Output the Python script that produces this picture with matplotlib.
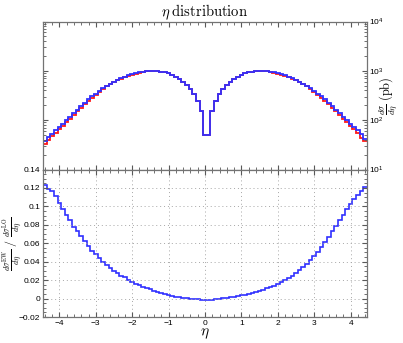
import numpy as np
import matplotlib
matplotlib.use('Agg')
import matplotlib.pyplot as plt
from matplotlib.ticker import MultipleLocator, LogLocator, FuncFormatter, NullFormatter

plt.rcParams['mathtext.fontset'] = 'cm'
plt.rcParams['font.family'] = ['Liberation Sans', 'DejaVu Sans']

# eta bins (width 0.1), centres -4.4 ... 4.4
eta_lo = -4.45
eta_hi = 4.45
n_bins = 89

# LO + EW (blue), pb
sigma_ew = [38, 45, 52, 62, 72, 85, 100, 117, 138, 162,
            191, 224, 263, 302, 347, 398, 447, 501, 550, 603,
            661, 708, 759, 813, 851, 891, 933, 966, 989, 1000,
            1000, 989, 966, 933, 891, 832, 759, 692, 603, 513,
            427, 339, 240, 151, 49,
            49, 151, 240, 339, 427, 513, 603, 692, 759, 832,
            891, 933, 966, 989, 1000, 1000, 989, 966, 933, 891,
            851, 813, 759, 708, 661, 603, 550, 501, 447, 398,
            347, 302, 263, 224, 191, 162, 138, 117, 100, 85,
            72, 62, 52, 42]

# LO (red), pb
sigma_lo = [33, 40, 47, 56, 65, 77, 92, 108, 128, 151,
            179, 211, 249, 287, 331, 381, 430, 484, 532, 585,
            643, 691, 742, 797, 836, 877, 920, 954, 978, 990,
            992, 982, 960, 928, 887, 830, 757, 691, 603, 513,
            427, 339, 240, 151, 49,
            49, 151, 240, 339, 427, 513, 602, 691, 757, 829,
            887, 928, 960, 982, 991, 990, 978, 954, 920, 877,
            836, 797, 742, 691, 643, 585, 532, 483, 429, 380,
            330, 286, 248, 210, 178, 151, 127, 108, 91, 77,
            65, 55, 44, 37]

# ratio EW / LO
ratio = [0.123, 0.119, 0.117, 0.111, 0.104, 0.097, 0.091, 0.085, 0.078, 0.073,
         0.068, 0.062, 0.057, 0.052, 0.048, 0.044, 0.040, 0.036, 0.033, 0.030,
         0.028, 0.025, 0.023, 0.020, 0.018, 0.016, 0.0145, 0.013, 0.0115, 0.010,
         0.0085, 0.007, 0.006, 0.005, 0.004, 0.003, 0.0022, 0.0015, 0.0008, 0.0002,
         -0.0003, -0.0007, -0.001, -0.0012, -0.0013,
         -0.0013, -0.0011, -0.0008, -0.0004, 0.0001, 0.0007, 0.0013, 0.002, 0.0027, 0.0035,
         0.0044, 0.0053, 0.0063, 0.0074, 0.0086, 0.0098, 0.011, 0.0125, 0.014, 0.0158,
         0.0178, 0.020, 0.0225, 0.025, 0.0278, 0.031, 0.0345, 0.038, 0.042, 0.046,
         0.051, 0.056, 0.061, 0.067, 0.073, 0.079, 0.085, 0.091, 0.097, 0.103,
         0.108, 0.112, 0.117, 0.121]

edges = np.linspace(eta_lo, eta_hi, n_bins + 1)

fig = plt.figure(figsize=(4.03, 3.43), dpi=100)
ax1 = fig.add_axes([0.1067, 0.5058, 0.804, 0.4315])
ax2 = fig.add_axes([0.1067, 0.0758, 0.804, 0.4300])

tickfs = 6

# top panel
ax1.stairs(sigma_lo, edges, baseline=None, color='#ff1a1a', lw=1.3)
ax1.stairs(sigma_ew, edges, baseline=None, color='#3030ff', lw=1.3)
ax1.set_yscale('log')
ax1.set_ylim(10, 1e4)
ax1.set_xlim(eta_lo, eta_hi)
ax1.xaxis.set_major_locator(MultipleLocator(1))
ax1.xaxis.set_minor_locator(MultipleLocator(0.2))
ax1.yaxis.set_major_locator(LogLocator(base=10, numticks=10))
ax1.yaxis.set_minor_locator(LogLocator(base=10, subs=np.arange(2, 10), numticks=10))
ax1.yaxis.set_minor_formatter(NullFormatter())
ax1.tick_params(which='both', direction='in', top=True, bottom=True, left=True, right=True,
                labelbottom=False, labelleft=False, labelright=True, labelsize=tickfs,
                color='0.35', pad=1.5)
ax1.tick_params(which='major', length=3.5)
ax1.tick_params(which='minor', length=2)
ax1.set_title(r'$\eta\;\mathrm{distribution}$', fontsize=10.5, pad=4)
ax1.yaxis.set_label_position('right')
ax1.set_ylabel(r'$\frac{d\sigma}{d\eta}\;\mathrm{(pb)}$', fontsize=9)
ax1.yaxis.set_label_coords(1.03, 0.5)

# bottom panel
ax2.stairs(ratio, edges, baseline=None, color='#3030ff', lw=1.2)
ax2.set_xlim(eta_lo, eta_hi)
ax2.set_ylim(-0.02, 0.14)
ax2.xaxis.set_major_locator(MultipleLocator(1))
ax2.xaxis.set_minor_locator(MultipleLocator(0.2))
ax2.yaxis.set_major_locator(MultipleLocator(0.02))
ax2.yaxis.set_minor_locator(MultipleLocator(0.005))
ax2.yaxis.set_major_formatter(FuncFormatter(lambda v, p: ('%g' % round(v, 3)).replace('-', '\u2212')))
ax2.xaxis.set_major_formatter(FuncFormatter(lambda v, p: ('%g' % v).replace('-', '\u2212')))
ax2.tick_params(which='both', direction='in', top=True, bottom=True, left=True, right=True,
                labelsize=tickfs, color='0.35', pad=2)
ax2.tick_params(which='major', length=3.5)
ax2.tick_params(which='minor', length=2)
ax2.grid(True, which='major', linestyle=(0, (1, 3)), color='0.65', lw=0.7)
ax2.set_xlabel(r'$\eta$', fontsize=11, labelpad=0)
ax2.set_ylabel(r'$\frac{d\sigma^{\mathrm{EW}}}{d\eta}\ /\ \frac{d\sigma^{\mathrm{LO}}}{d\eta}$',
               fontsize=8.5)
ax2.yaxis.set_label_coords(-0.055, 0.5)

for ax in (ax1, ax2):
    for s in ax.spines.values():
        s.set_color('0.45')
        s.set_linewidth(0.9)

fig.savefig('out.png', dpi=100)
